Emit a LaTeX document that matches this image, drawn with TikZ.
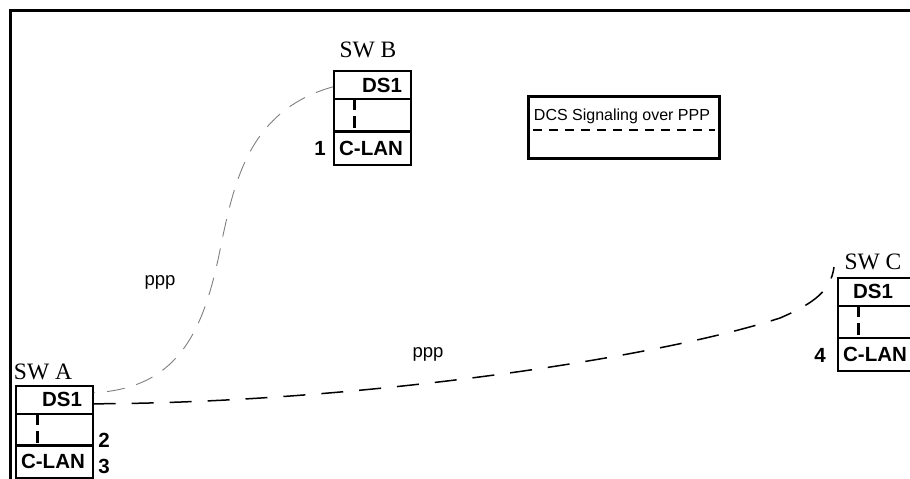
\documentclass[tikz,border=0pt]{standalone}
\usepackage{fontspec}
\setmainfont{Liberation Serif}
\setsansfont{Liberation Sans}
\begin{document}
\begin{tikzpicture}[x=1pt,y=-1pt,
  cell/.style={draw, line width=1.6pt, minimum width=77pt, inner sep=0pt, anchor=north west},
  cellA/.style={cell, minimum height=28pt},
  cellB/.style={cell, minimum height=32pt},
  cellC/.style={cell, minimum height=33pt},
  lbl/.style={font=\sffamily\bfseries\fontsize{20.5}{20.5}\selectfont, inner sep=0pt},
  swlbl/.style={font=\fontsize{23.5}{23.5}\selectfont, inner sep=0pt},
  legfont/.style={font=\sffamily\fontsize{16}{16}\selectfont, inner sep=0pt},
  ppplbl/.style={font=\sffamily\fontsize{18.5}{18.5}\selectfont, inner sep=0pt},
  inner/.style={line width=3pt, dash pattern=on 12pt off 6pt},
  graylink/.style={draw=black!50, line width=0.9pt, dash pattern=on 18pt off 12pt},
  blacklink/.style={draw=black, line width=1.5pt, dash pattern=on 22pt off 16pt}]
\useasboundingbox (0,0) rectangle (910,479);
\clip (0,0) rectangle (910,479);
\draw[line width=3pt] (10,10) rectangle (930,500);

% SW A
\node[cellA] (aDS) at (15,385) {};
\node[cellB] (aMid) at (15,413) {};
\node[cellC] (aLAN) at (15,444) {};
\node[lbl] at (62,399) {DS1};
\node[lbl] at (53,461) {C-LAN};
\node[swlbl] at (43,372) {SW A};
\node[lbl] (n2) at (104,440) {2};
\node[lbl] (n3) at (104,466) {3};
\draw[inner] ([xshift=22pt]aMid.north west) -- ([xshift=22pt]aMid.south west);

% SW B
\node[cellA] (bDS) at (333,70) {};
\node[cellB] (bMid) at (333,98) {};
\node[cellC] (bLAN) at (333,131) {};
\node[lbl] at (382,85) {DS1};
\node[lbl] at (371,148) {C-LAN};
\node[swlbl] at (368,50) {SW B};
\node[lbl] (n1) at (320,148) {1};
\draw[inner] ([xshift=21pt]bMid.north west) -- ([xshift=21pt]bMid.south west);

% SW C
\node[cellA] (cDS) at (837,277) {};
\node[cellB] (cMid) at (837,305) {};
\node[cellC] (cLAN) at (837,337) {};
\node[lbl] at (873,291) {DS1};
\node[lbl] at (875,354) {C-LAN};
\node[swlbl] at (873,262) {SW C};
\node[lbl] (n4) at (820,355) {4};
\draw[inner] ([xshift=21pt]cMid.north west) -- ([xshift=21pt]cMid.south west);

% legend
\node[draw, line width=2.5pt, minimum width=191pt, minimum height=62pt, anchor=north west, inner sep=0pt] (legend) at (527,95) {};
\node[legfont] (legtxt) at (622,116) {DCS Signaling over PPP};
\draw[line width=1.5pt, dash pattern=on 9pt off 7pt] ([xshift=6pt,yshift=-35pt]legend.north west) coordinate (l1) -- ([xshift=-6pt,yshift=-35pt]legend.north east) coordinate (l2);

% links
\path[graylink] ([yshift=-2pt]bDS.west) .. controls (250,110) and (235,180) .. (222,240)
  .. controls (205,330) and (180,388) .. ([yshift=7pt]aDS.east);
\path[blacklink] ([yshift=-4pt]aDS.east) .. controls (350,403) and (650,360) .. (780,318)
  .. controls (815,303) and (831,290) .. ([xshift=-3pt,yshift=10pt]cDS.north west);

\node[ppplbl] (p1) at (160,282) {ppp};
\node[ppplbl] (p2) at (428,354) {ppp};
\end{tikzpicture}
\end{document}
